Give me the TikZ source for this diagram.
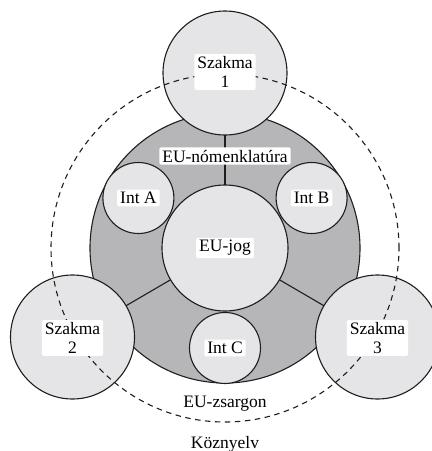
\documentclass[tikz,border=0pt]{standalone}
\usepackage{fontspec}
\setmainfont{Liberation Serif}
\usetikzlibrary{calc}
\pgfdeclarelayer{back}
\pgfsetlayers{back,main}
\definecolor{darkfill}{RGB}{182,182,185}
\definecolor{lightfill}{RGB}{229,229,231}
\definecolor{edge}{RGB}{30,30,30}
\tikzset{
  circ/.style={circle,draw=edge,line width=1.1pt,inner sep=0pt},
  lite/.style={circ,fill=lightfill},
  lbl/.style={fill=white,rounded corners=2pt,inner xsep=3pt,inner ysep=2.5pt,
    font=\fontsize{17.5}{18.5}\selectfont,align=center},
  plain/.style={font=\fontsize{17.5}{18.5}\selectfont,inner sep=0pt},
  spoke/.style={draw=edge,line width=1.1pt},
  dashring/.style={draw=edge,line width=1.1pt,dash pattern=on 5.5pt off 4.5pt}
}
\begin{document}
\begin{tikzpicture}[x=1pt,y=-1pt]
\useasboundingbox (0,0) rectangle (432,451);
\coordinate (c) at (225,248);
\begin{pgfonlayer}{back}
\node[circ,fill=darkfill,minimum size=270pt] (ring) at (c) {};
\end{pgfonlayer}
\node[lite,minimum size=126pt] (jog) at (c) {};
\node[lite,minimum size=71pt] (ia) at ($(c)+(-86.6,-50)$) {};
\node[lite,minimum size=71pt] (ib) at ($(c)+(86.6,-50)$) {};
\node[lite,minimum size=71pt] (ic) at ($(c)+(0,100)$) {};
\node[lite,minimum size=124pt] (s1) at ($(c)+(0,-175)$) {};
\node[lite,minimum size=124pt] (s2) at ($(c)+(-152.5,89)$) {};
\node[lite,minimum size=124pt] (s3) at ($(c)+(152.5,89)$) {};
\begin{pgfonlayer}{back}
\draw[spoke] (jog.center) -- (s1.center);
\draw[spoke] (jog.center) -- (s2.center);
\draw[spoke] (jog.center) -- (s3.center);
\end{pgfonlayer}
\node[circle,dashring,minimum size=348pt,inner sep=0pt] (zs) at (c) {};
\node[lbl] (l1) at ($(s1)+(0,-1)$) {Szakma\\1};
\node[lbl] (l2) at ($(s2)+(0,1)$) {Szakma\\2};
\node[lbl] (l3) at ($(s3)+(0,1)$) {Szakma\\3};
\node[lbl] (lnom) at (225,156) {EU-nómenklatúra};
\node[lbl] (ljog) at (jog) {EU-jog};
\node[lbl] (la) at (ia) {Int A};
\node[lbl] (lb) at (ib) {Int B};
\node[lbl] (lc) at (ic) {Int C};
\node[plain,anchor=base] (lzs) at (225,407) {EU-zsargon};
\node[plain,anchor=base] (lkoz) at (225,448) {Köznyelv};
\end{tikzpicture}
\end{document}
